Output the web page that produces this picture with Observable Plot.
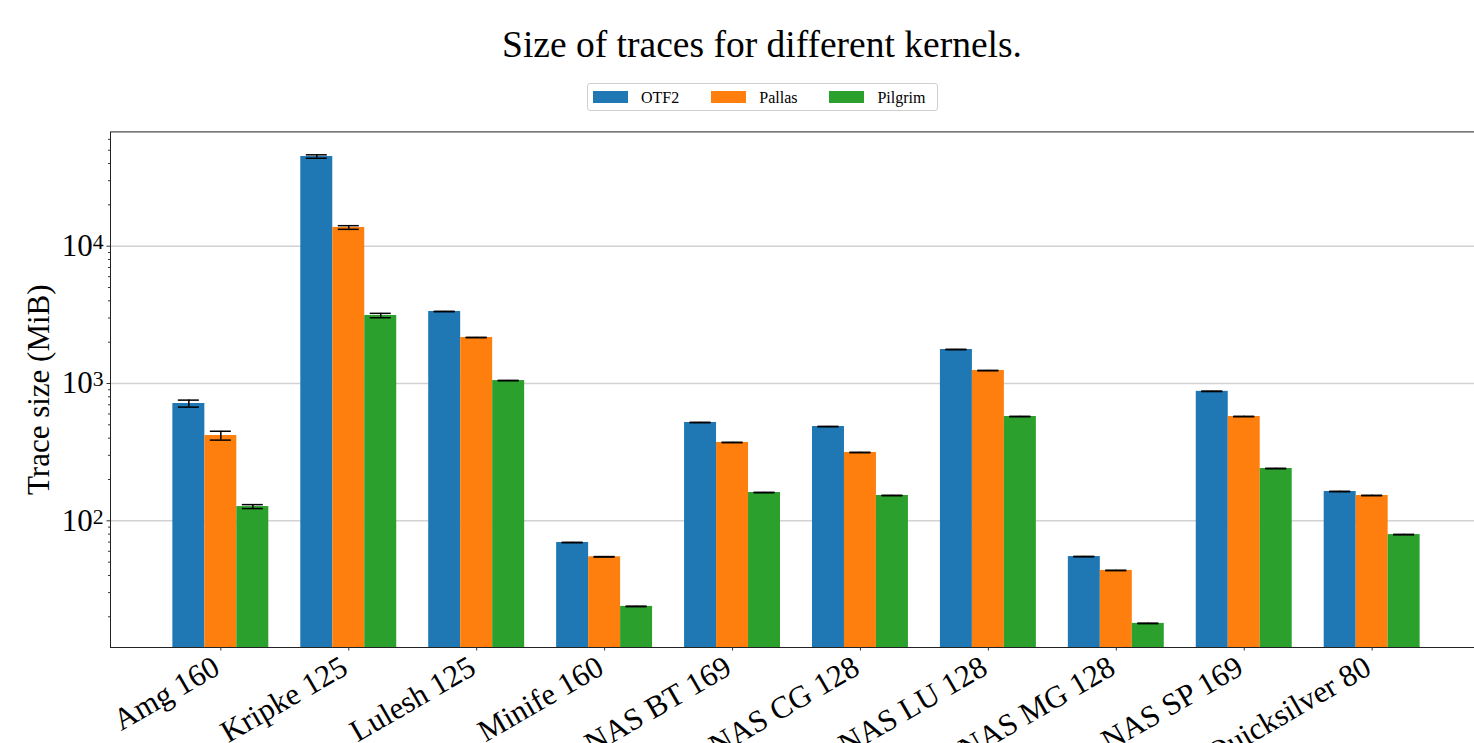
<!DOCTYPE html>
<html>
<head>
<meta charset="utf-8">
<script src="https://cdn.jsdelivr.net/npm/d3@7"></script>
<script src="https://cdn.jsdelivr.net/npm/@observablehq/plot@0.6"></script>
<style>
  html, body { margin: 0; padding: 0; background: #fff; overflow: hidden; }
  #wrap { position: relative; width: 1474px; height: 743px; overflow: hidden;
          font-family: "Liberation Serif", "Times New Roman", serif; color: #000; }
  #inner { position: absolute; left: 0; top: 0; width: 1524px; height: 800px; }
  #title { position: absolute; left: 0; top: 26px; width: 1524px; text-align: center;
           font-size: 37.5px; line-height: 37.5px; }
  #legend { position: absolute; left: 587px; top: 83px; width: 351px; height: 28px; box-sizing: border-box;
            border: 1px solid #cfcfcf; border-radius: 3px; background: #fff;
            font-family: "Liberation Serif", "Times New Roman", serif; font-size: 16px; white-space: nowrap; }
  .item { position: absolute; top: 0; height: 26px; display: flex; align-items: center; }
  .sw { flex: none; width: 35px; height: 12px; margin-right: 13px; }
  .lbl { flex: none; line-height: 16px; padding-top: 1px; }
  #chart { position: absolute; left: 0; top: 115px; }
</style>
</head>
<body>
<div id="wrap">
  <div id="inner">
    <div id="title">Size of traces for different kernels.</div>
    <div id="legend"></div>
    <div id="chart"></div>
  </div>
</div>
<script>
// Kernels (with process count) and tracing tools
const kernels = ["Amg 160", "Kripke 125", "Lulesh 125", "Minife 160", "NAS BT 169",
                 "NAS CG 128", "NAS LU 128", "NAS MG 128", "NAS SP 169", "Quicksilver 80"];
const tools = ["OTF2", "Pallas", "Pilgrim"];
const colors = ["#1f77b4", "#ff7f0e", "#2ca02c"];

// Mean trace size (MiB) per kernel
const otf2    = [715, 45000, 3345, 69.5, 520, 486, 1769, 54.9, 877, 163.5];
const pallas  = [418, 13690, 2163, 54.7, 372, 314.5, 1243, 43.5, 575, 152.9];
const pilgrim = [127, 3128, 1051, 23.8, 160.7, 152.9, 575, 17.9, 240.4, 79.4];

// Standard deviation (MiB) per kernel
const otf2Err    = [42, 1300, 8, 0.2, 1.5, 1.5, 5, 0.2, 3, 0.6];
const pallasErr  = [31, 420, 5, 0.2, 1.2, 1.2, 4, 0.15, 2, 0.5];
const pilgrimErr = [4.2, 115, 3, 0.1, 0.6, 0.6, 2, 0.07, 1, 0.3];

const yTicks = [100, 1000, 10000];
const yMinor = [20, 30, 40, 50, 60, 70, 80, 90,
                200, 300, 400, 500, 600, 700, 800, 900,
                2000, 3000, 4000, 5000, 6000, 7000, 8000, 9000,
                20000, 30000, 40000, 50000, 60000];

const series = [otf2, pallas, pilgrim];
const errors = [otf2Err, pallasErr, pilgrimErr];
const rows = tools.flatMap((tool, t) =>
  kernels.map((kernel, k) => ({kernel, tool, value: series[t][k], err: errors[t][k]})));

// Legend: one column per tool, 2em column spacing
const legend = document.getElementById("legend");
let lx = 5;
tools.forEach((t, i) => {
  const item = document.createElement("div");
  item.className = "item";
  item.style.left = lx + "px";
  item.innerHTML = `<span class="sw" style="background:${colors[i]}"></span><span class="lbl">${t}</span>`;
  legend.appendChild(item);
  lx += item.getBoundingClientRect().width + 32;
});

// Layout of the grouped bars
const width = 1524, marginLeft = 110, marginRight = 42;
const padInner = 0.25, padOuter = 0.4875;
const step = (width - marginLeft - marginRight) / (kernels.length - padInner + 2 * padOuter);
const barW = step * (1 - padInner) / tools.length;
const capInset = (barW - 21) / 2;
const yMin = 11.95, yMax = 68000;

const supDigits = "⁰¹²³⁴⁵⁶⁷⁸⁹";
const sup = (n) => String(n).split("").map(c => supDigits[+c]).join("");

const marks = [
  Plot.gridY(yTicks, {stroke: "#d2d2d2", strokeOpacity: 1, strokeWidth: 1.5})
];
tools.forEach((tool, i) => {
  const data = rows.filter(d => d.tool === tool);
  marks.push(Plot.barY(data, {
    x: "kernel", y1: yMin, y2: "value", fill: colors[i],
    insetLeft: i * barW, insetRight: (tools.length - 1 - i) * barW
  }));
});
tools.forEach((tool, i) => {
  const data = rows.filter(d => d.tool === tool);
  const off = (i - (tools.length - 1) / 2) * barW;
  marks.push(Plot.ruleX(data, {
    x: "kernel", y1: d => d.value - d.err, y2: d => d.value + d.err,
    dx: off, stroke: "#000", strokeWidth: 1.5
  }));
  for (const end of [d => d.value - d.err, d => d.value + d.err]) {
    marks.push(Plot.tickY(data, {
      x: "kernel", y: end, stroke: "#000", strokeWidth: 1.5,
      insetLeft: i * barW + capInset, insetRight: (tools.length - 1 - i) * barW + capInset
    }));
  }
});
marks.push(
  Plot.frame({stroke: "#222", strokeWidth: 1}),
  Plot.axisY(yMinor, {tickSize: 2, tickFormat: () => "", stroke: "#333", label: null}),
  Plot.axisY(yTicks, {tickSize: 3.5, tickPadding: 3.5, fontSize: 31, stroke: "#333",
                      tickFormat: d => "10" + sup(Math.round(Math.log10(d))), label: null}),
  // tick marks at each kernel, then the rotated kernel names below them
  Plot.axisX({tickSize: 3.5, tickFormat: () => "", stroke: "#333", label: null}),
  Plot.axisX({tickSize: 0, tickPadding: 7, fontSize: 31, tickRotate: -30,
              dx: -4, dy: 10, label: null}),
  Plot.text(["Trace size (MiB)"], {frameAnchor: "left", textAnchor: "middle", rotate: -90,
                                   dx: -71, fontSize: 31, fill: "#000"})
);

const chart = Plot.plot({
  width, height: 682,
  marginLeft, marginRight, marginTop: 16.4, marginBottom: 150,
  style: {fontFamily: "Liberation Serif, Times New Roman, serif", background: "white", color: "#000"},
  x: {domain: kernels, paddingInner: padInner, paddingOuter: padOuter, round: false, label: null},
  y: {type: "log", domain: [yMin, yMax], label: null},
  marks
});

// Exponents drawn as raised, smaller digits
d3.select(chart).selectAll('g[aria-label="y-axis tick label"] text').each(function () {
  const s = this.textContent;
  if (!s.startsWith("10")) return;
  const exp = s.slice(2).split("").map(c => supDigits.indexOf(c)).join("");
  const t = d3.select(this);
  t.text("10");
  t.append("tspan").attr("dy", "-0.32em").attr("font-size", "0.7em").text(exp);
});

document.getElementById("chart").appendChild(chart);
</script>
</body>
</html>
